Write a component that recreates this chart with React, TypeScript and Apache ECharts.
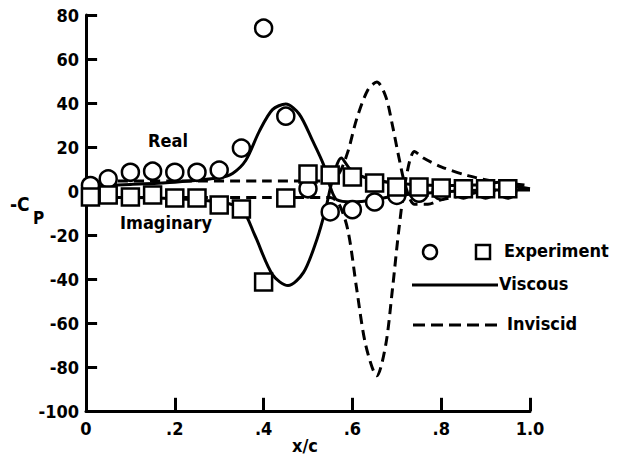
import React, { useEffect, useRef } from "react";
import * as echarts from "echarts";

const FONT = "DejaVu Sans Condensed";

const yTicks = [-100, -80, -60, -40, -20, 0, 20, 40, 60, 80];
const xTicks = [0, 0.2, 0.4, 0.6, 0.8, 1.0];
const xTickLabels: Record<string, string> = { "0": "0", "0.2": ".2", "0.4": ".4", "0.6": ".6", "0.8": ".8", "1": "1.0" };

// Experiment, real part (circles)
const realExpX = [0.01, 0.05, 0.1, 0.15, 0.2, 0.25, 0.3, 0.35, 0.4, 0.45, 0.5, 0.55, 0.6, 0.65, 0.7, 0.75, 0.8, 0.85, 0.9, 0.95];
const realExpY = [2.5, 5.5, 8.5, 9, 8.5, 8.5, 9.5, 19.5, 74, 34, 1, -9.5, -8.5, -5, -2, -1, 0, 0.5, 0.5, 0.5];

// Experiment, imaginary part (squares)
const imagExpX = [0.01, 0.05, 0.1, 0.15, 0.2, 0.25, 0.3, 0.35, 0.4, 0.45, 0.5, 0.55, 0.6, 0.65, 0.7, 0.75, 0.8, 0.85, 0.9, 0.95];
const imagExpY = [-2.7, -1.8, -2.7, -1.8, -3.2, -3.2, -6.4, -8.2, -41.4, -3.2, 7.7, 7.3, 6.4, 3.6, 1.8, 1.8, 1.4, 1, 1, 1];

// Viscous theory, real part
const viscRealX = [0, 0.1, 0.2, 0.3, 0.33, 0.36, 0.39, 0.42, 0.45, 0.48, 0.51, 0.535, 0.55, 0.565, 0.6, 0.65, 0.7, 0.8, 0.9, 1.0];
const viscRealY = [2, 3, 4, 6, 8, 14, 27, 37, 39.5, 35, 23, 12, 2, -4, -5, -4, -2, -0.5, 0.5, 0.5];

// Viscous theory, imaginary part
const viscImagX = [0, 0.1, 0.2, 0.3, 0.35, 0.38, 0.42, 0.455, 0.49, 0.52, 0.54, 0.555, 0.575, 0.595, 0.63, 0.7, 0.8, 0.9, 0.93, 0.96, 1.0];
const viscImagY = [-3, -3, -3.5, -5, -8, -20, -38, -43, -37, -22, -8, 5, 15, 10, 6, 3.5, 2.5, 3, 4, 2.5, 1];

// Inviscid theory, real part
const invRealX = [0, 0.2, 0.4, 0.55, 0.57, 0.59, 0.61, 0.635, 0.655, 0.675, 0.69, 0.705, 0.72, 0.74, 0.77, 0.8, 0.85, 0.9, 1.0];
const invRealY = [4.5, 4.5, 4.5, 4.5, 8, 18, 33, 46, 49.5, 43, 30, 15, 2, -6, -6, -4, -2, 0, 1];

// Inviscid theory, imaginary part
const invImagX = [0, 0.2, 0.4, 0.55, 0.57, 0.59, 0.61, 0.63, 0.655, 0.675, 0.69, 0.705, 0.72, 0.74, 0.76, 0.8, 0.86, 0.93, 1.0];
const invImagY = [-3, -3, -3, -3, -6, -18, -45, -70, -84, -70, -45, -17, 5, 18, 15, 11, 7, 4, 2.5];

const zip = (xs: number[], ys: number[]) => xs.map((x, i) => [x, ys[i]]);

// tick mark lengths in data units (x ticks: along y; y ticks: along x)
const X_TICK_LEN = 6;
const Y_TICK_LEN = 0.025;

export default function App() {
  const ref = useRef<HTMLDivElement>(null);
  useEffect(() => {
    if (!ref.current) return;
    const chart = echarts.init(ref.current, undefined, { renderer: "svg" });
    const lineBase = { type: "line", showSymbol: false, symbol: "none", smooth: 0.3, z: 2 };
    const markerStyle = { color: "#fff", borderColor: "#000", borderWidth: 2.5, opacity: 1 };
    const tickLines = [
      ...xTicks.map((v) => [{ coord: [v, -100] }, { coord: [v, -100 + X_TICK_LEN] }]),
      ...yTicks.map((v) => [{ coord: [0, v] }, { coord: [Y_TICK_LEN, v] }]),
    ];
    chart.setOption({
      animation: false,
      grid: { left: 86, right: 89, top: 15, bottom: 52 },
      xAxis: {
        type: "value",
        min: 0,
        max: 1,
        interval: 0.2,
        axisTick: { show: true, inside: true, length: 13, lineStyle: { color: "#000", width: 3 } },
        axisLine: { show: true, onZero: false, lineStyle: { color: "#000", width: 3 } },
        splitLine: { show: false },
        axisLabel: {
          color: "#000",
          fontFamily: FONT,
          fontWeight: "bold",
          fontSize: 18,
          margin: 8,
          formatter: (v: number) => xTickLabels[String(Math.round(v * 10) / 10)] ?? "",
        },
      },
      yAxis: {
        type: "value",
        min: -100,
        max: 80,
        interval: 20,
        axisTick: { show: true, inside: true, length: 11, lineStyle: { color: "#000", width: 3 } },
        axisLine: { show: true, onZero: false, lineStyle: { color: "#000", width: 3 } },
        splitLine: { show: false },
        axisLabel: {
          color: "#000",
          fontFamily: FONT,
          fontWeight: "bold",
          fontSize: 18,
          margin: 7,
          formatter: (v: number) => (yTicks.includes(v) ? String(v) : ""),
        },
      },
      series: [
        {
          ...lineBase,
          name: "Viscous real",
          data: zip(viscRealX, viscRealY),
          lineStyle: { color: "#000", width: 3 },
          markLine: {
            silent: true,
            symbol: ["none", "none"],
            label: { show: false },
            lineStyle: { color: "#000", width: 3, type: "solid" },
            emphasis: { disabled: true },
            data: tickLines,
          },
        },
        { ...lineBase, name: "Viscous imaginary", data: zip(viscImagX, viscImagY), lineStyle: { color: "#000", width: 3 } },
        { ...lineBase, name: "Inviscid real", data: zip(invRealX, invRealY), lineStyle: { color: "#000", width: 3, type: [10, 6] } },
        { ...lineBase, name: "Inviscid imaginary", data: zip(invImagX, invImagY), lineStyle: { color: "#000", width: 3, type: [10, 6] } },
        { type: "scatter", name: "Experiment real", data: zip(realExpX, realExpY), symbol: "circle", symbolSize: 17, itemStyle: markerStyle, z: 5 },
        { type: "scatter", name: "Experiment imaginary", data: zip(imagExpX, imagExpY), symbol: "rect", symbolSize: 17, itemStyle: markerStyle, z: 5 },
      ],
      graphic: [
        { type: "text", left: 10, top: 194, style: { text: "-C", font: `bold 19px '${FONT}'`, fill: "#000" } },
        { type: "text", left: 33, top: 209, style: { text: "P", font: `bold 17px '${FONT}'`, fill: "#000" } },
        { type: "text", left: 148, top: 131, style: { text: "Real", font: `bold 18px '${FONT}'`, fill: "#000" } },
        { type: "text", left: 120, top: 213, style: { text: "Imaginary", font: `bold 18px '${FONT}'`, fill: "#000" } },
        { type: "text", left: 292, top: 436, style: { text: "x/c", font: `bold 18px '${FONT}'`, fill: "#000" } },
        { type: "circle", shape: { cx: 430, cy: 252, r: 7 }, style: { fill: "#fff", stroke: "#000", lineWidth: 2.5 } },
        { type: "rect", shape: { x: 476, y: 245, width: 14, height: 14 }, style: { fill: "#fff", stroke: "#000", lineWidth: 2.5 } },
        { type: "text", left: 504, top: 241, style: { text: "Experiment", font: `bold 18px '${FONT}'`, fill: "#000" } },
        { type: "line", shape: { x1: 412, y1: 285, x2: 498, y2: 285 }, style: { stroke: "#000", lineWidth: 3 } },
        { type: "text", left: 499, top: 274, style: { text: "Viscous", font: `bold 18px '${FONT}'`, fill: "#000" } },
        { type: "line", shape: { x1: 413, y1: 325, x2: 502, y2: 325 }, style: { stroke: "#000", lineWidth: 3, lineDash: [12, 6] } },
        { type: "text", left: 507, top: 314, style: { text: "Inviscid", font: `bold 18px '${FONT}'`, fill: "#000" } },
      ],
    });
    return () => chart.dispose();
  }, []);
  return <div ref={ref} style={{ width: 619, height: 463, position: "absolute", left: 0, top: 0 }} />;
}
